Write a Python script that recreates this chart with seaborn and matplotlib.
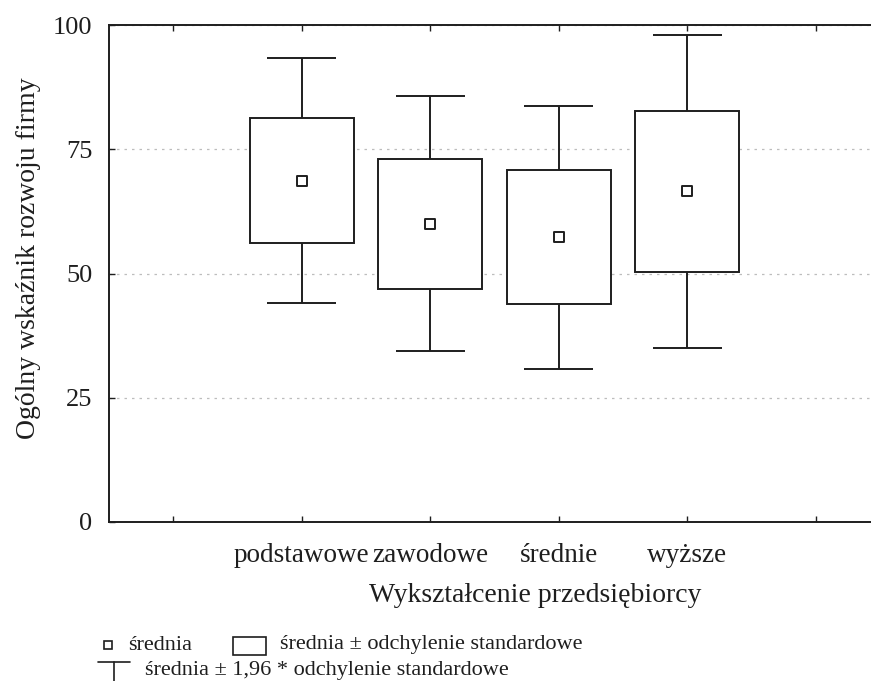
import numpy as np
import pandas as pd
import seaborn as sns
import matplotlib
matplotlib.use("Agg")
import matplotlib.pyplot as plt
from matplotlib.patches import Rectangle
from matplotlib.lines import Line2D

categories = ["podstawowe", "zawodowe", "średnie", "wyższe"]
means = [68.7, 60.0, 57.3, 66.5]
sds = [12.6, 13.1, 13.5, 16.1]
y_ticks = [0, 25, 50, 75, 100]
x_label = "Wykształcenie przedsiębiorcy"
y_label = "Ogólny wskaźnik rozwoju firmy"
legend_mean = "średnia"
legend_box = "średnia ± odchylenie standardowe"
legend_whisker = "średnia ± 1,96 * odchylenie standardowe"

sns.set_style("ticks")
plt.rcParams['font.family'] = ['Liberation Serif', 'DejaVu Serif']

df = pd.DataFrame({"cat": categories, "mean": means, "sd": sds})
df["pos"] = np.arange(1, len(categories) + 1)
df["box_lo"] = df["mean"] - df["sd"]
df["box_hi"] = df["mean"] + df["sd"]
df["wl"] = df["mean"] - 1.96 * df["sd"]
df["wh"] = df["mean"] + 1.96 * df["sd"]

W, H = 871, 681
fig = plt.figure(figsize=(W / 100, H / 100), dpi=100)
fig.patch.set_facecolor("white")
ax = fig.add_axes([109 / W, 1 - 522 / H, 771 / W, 497 / H])
ink = "#1e1e1e"
lw = 1.4

# whiskers (mean ± 1.96 SD)
ax.vlines(df["pos"], df["wl"], df["wh"], color=ink, lw=lw, zorder=2)
ax.hlines(df["wl"], df["pos"] - 0.27, df["pos"] + 0.27, color=ink, lw=lw, zorder=2)
ax.hlines(df["wh"], df["pos"] - 0.27, df["pos"] + 0.27, color=ink, lw=lw, zorder=2)
# boxes (mean ± SD)
ax.bar(df["pos"], df["box_hi"] - df["box_lo"], bottom=df["box_lo"], width=0.81,
       facecolor="white", edgecolor=ink, linewidth=lw, zorder=3)
# means
sns.scatterplot(data=df, x="pos", y="mean", marker="s", s=44, color="white",
                edgecolor=ink, linewidth=1.4, zorder=4, ax=ax, legend=False)

ax.set_xlim(-0.5, 5.5)
ax.set_ylim(0, 100)
ax.set_xticks(range(len(categories) + 2))
ax.set_xticklabels([""] + categories + [""])
ax.set_yticks(y_ticks)
ax.set_yticklabels([str(t) for t in y_ticks])

ax.set_axisbelow(True)
ax.yaxis.grid(True, linestyle=(0, (2, 4)), color="#bdbdbd", lw=0.9)
ax.xaxis.grid(False)

for side in ["left", "top", "bottom", "right"]:
    ax.spines[side].set_visible(True)
    ax.spines[side].set_color(ink)
    ax.spines[side].set_linewidth(1.4)

ax.tick_params(axis="both", direction="in", length=4, width=1, colors=ink,
               top=True, right=False)
ax.tick_params(axis="y", labelsize=19, pad=12)
ax.tick_params(axis="x", labelsize=19.5, pad=15)

ax.set_xlabel(x_label, fontsize=20, color=ink)
ax.set_ylabel(y_label, fontsize=20, color=ink)
ax.xaxis.set_label_coords((535 - 109) / 771, (522 - 596) / 497)
ax.xaxis.label.set_va("center")
ax.yaxis.set_label_coords((28 - 109) / 771, (522 - 258) / 497)
ax.yaxis.label.set_va("center")

# legend (figure coordinates)
fs = 16
r1 = 1 - 645 / H
fig.add_artist(Line2D([108 / W], [r1], marker="s", markersize=5.5, markerfacecolor="white",
                      markeredgecolor=ink, markeredgewidth=1.2, linestyle="none",
                      transform=fig.transFigure))
fig.text(128 / W, r1, legend_mean, fontsize=fs, va="center", ha="left", color=ink)
fig.add_artist(Rectangle((233 / W, 1 - 655 / H), 33 / W, 18 / H, facecolor="white",
                         edgecolor=ink, linewidth=1.2, transform=fig.transFigure))
fig.text(280 / W, r1, legend_box, fontsize=fs, va="center", ha="left", color=ink)
cap_y = 1 - 662 / H
fig.add_artist(Line2D([98 / W, 130 / W], [cap_y, cap_y], color=ink, lw=1.2,
                      transform=fig.transFigure))
fig.add_artist(Line2D([114 / W, 114 / W], [cap_y, 0.0], color=ink, lw=1.2,
                      transform=fig.transFigure))
fig.text(145 / W, 1 - 670 / H, legend_whisker, fontsize=fs, va="center", ha="left", color=ink)

fig.savefig("out.png", dpi=100, facecolor="white")
